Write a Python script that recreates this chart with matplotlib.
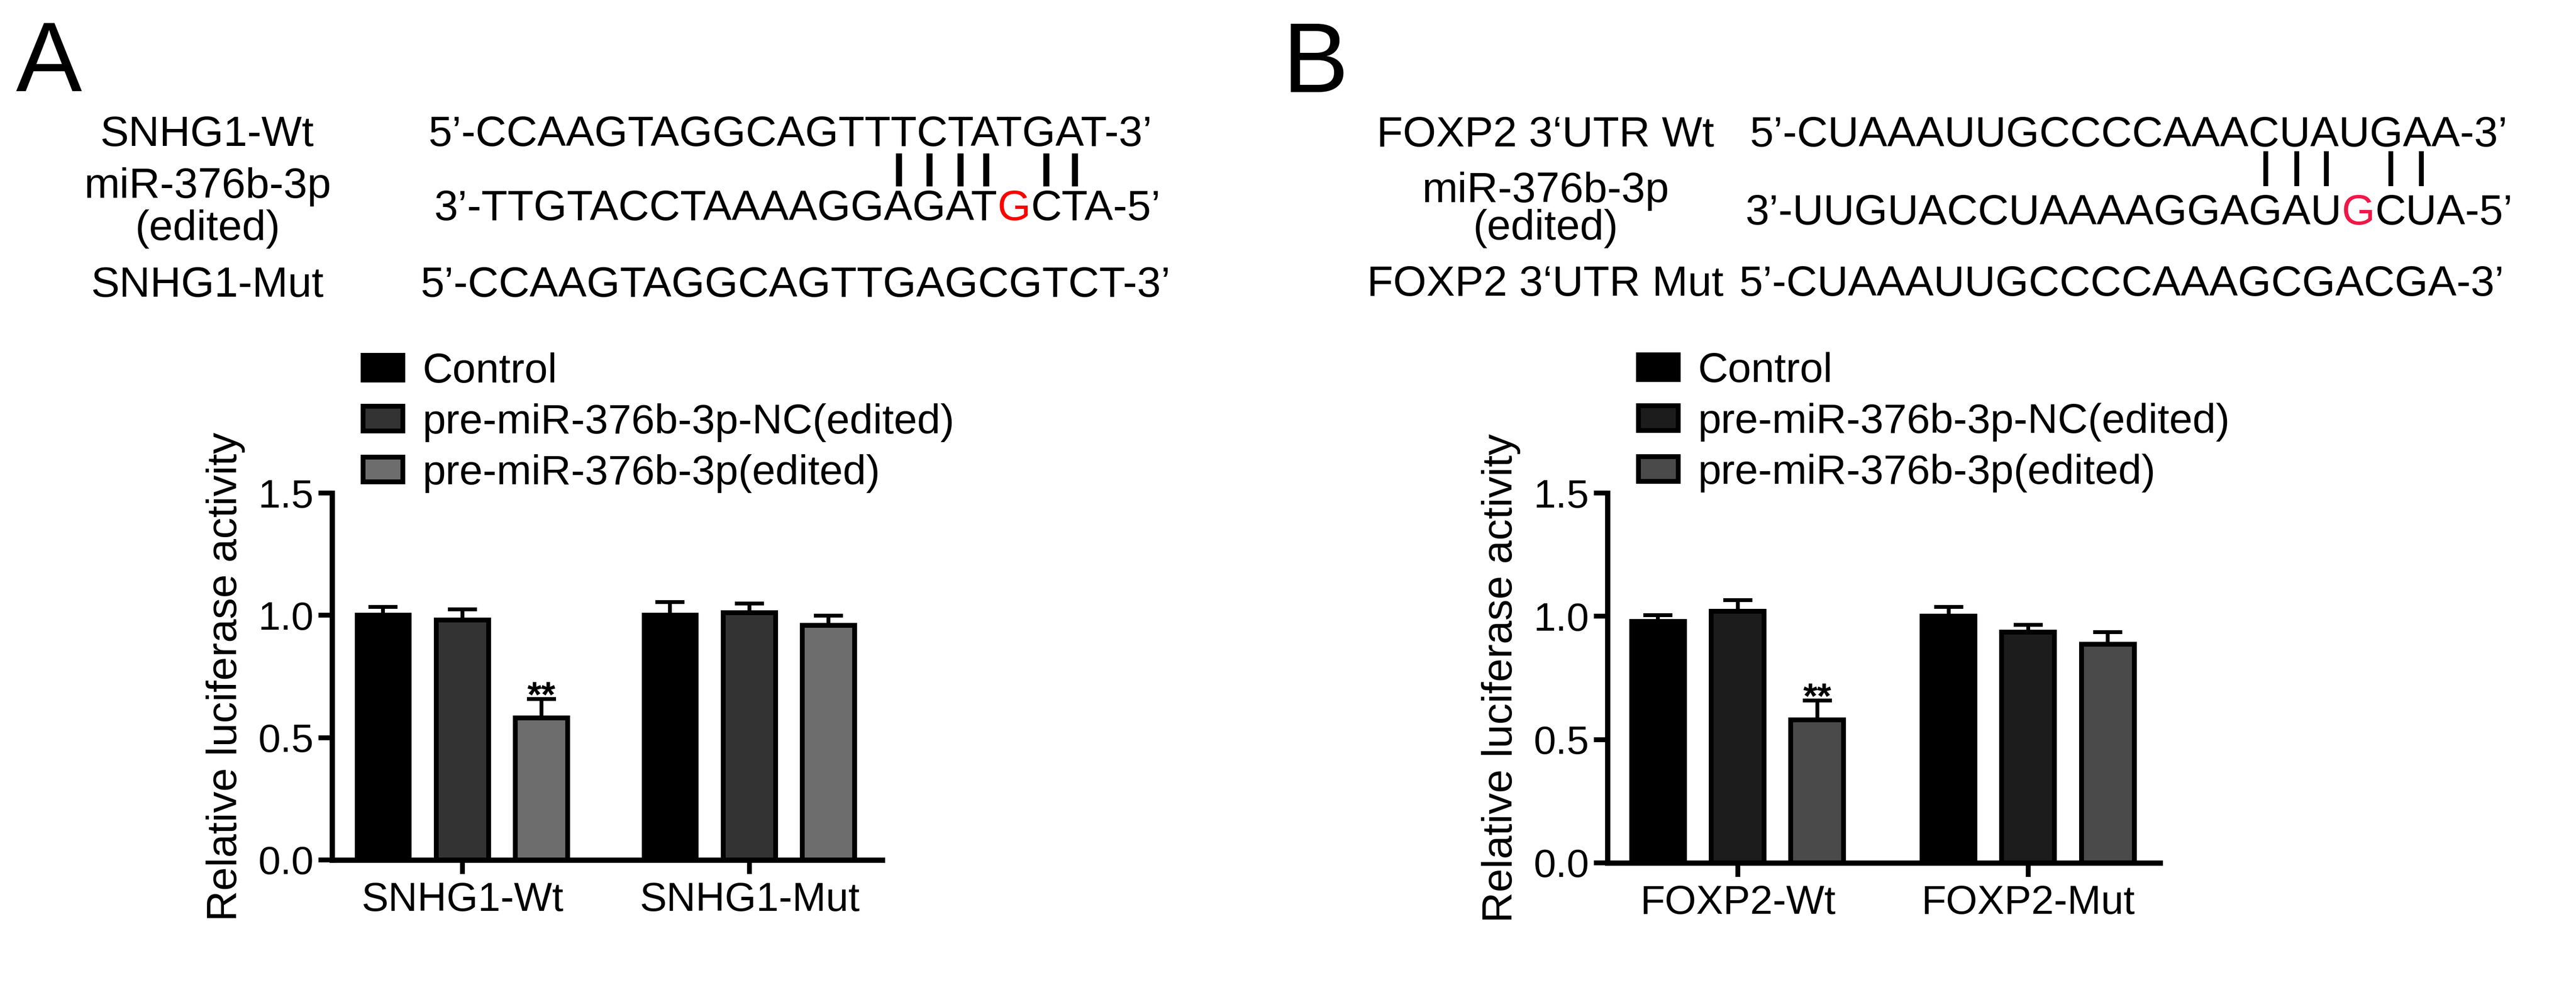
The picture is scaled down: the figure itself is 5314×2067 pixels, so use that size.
import numpy as np
import matplotlib
matplotlib.use("Agg")
import matplotlib.pyplot as plt
from matplotlib.lines import Line2D
from matplotlib.font_manager import FontProperties

plt.rcParams['font.family'] = ['Liberation Sans', 'DejaVu Sans']

W, H = 5315, 2067
DPI = 300

# ---- data ----
legend_labels = ['Control', 'pre-miR-376b-3p-NC(edited)', 'pre-miR-376b-3p(edited)']

groups_a = ['SNHG1-Wt', 'SNHG1-Mut']
vals_a = np.array([[1.00, 0.98, 0.58],
                   [1.00, 1.01, 0.96]])
errs_a = np.array([[0.035, 0.045, 0.078],
                   [0.055, 0.038, 0.038]])
colors_a = ['#000000', '#333333', '#6d6d6d']

groups_b = ['FOXP2-Wt', 'FOXP2-Mut']
vals_b = np.array([[0.98, 1.02, 0.58],
                   [1.00, 0.935, 0.886]])
errs_b = np.array([[0.025, 0.045, 0.078],
                   [0.038, 0.030, 0.050]])
colors_b = ['#000000', '#1c1c1c', '#4a4a4b']

# significance marks: (group, condition, text)
stars_a = [(0, 2, '**')]
stars_b = [(0, 2, '**')]

# sequence alignment text
wt_label_a, mir_label_a, mut_label_a = 'SNHG1-Wt', 'miR-376b-3p\n(edited)', 'SNHG1-Mut'
wt_seq_a = '5’-CCAAGTAGGCAGTTTCTATGAT-3’'
mir_seq_a = '3’-TTGTACCTAAAAGGAGATGCTA-5’'
mut_seq_a = '5’-CCAAGTAGGCAGTTGAGCGTCT-3’'
red_idx_a = 21
pairs_a = [17, 18, 19, 20, 22, 23]

wt_label_b, mir_label_b, mut_label_b = 'FOXP2 3‘UTR Wt', 'miR-376b-3p\n(edited)', 'FOXP2 3‘UTR Mut'
wt_seq_b = '5’-CUAAAUUGCCCCAAACUAUGAA-3’'
mir_seq_b = '3’-UUGUACCUAAAAGGAGAUGCUA-5’'
mut_seq_b = '5’-CUAAAUUGCCCCAAAGCGACGA-3’'
red_idx_b = 21
pairs_b = [18, 19, 20, 22, 23]

fig = plt.figure(figsize=(W / DPI, H / DPI), dpi=DPI)
renderer = fig.canvas.get_renderer()


def fx(px):
    return px / W


def fy(py):
    return 1 - py / H


SEQ_FS = 21.2
seq_font = FontProperties(family='Liberation Sans', size=SEQ_FS)


def text_w(s):
    w, h, d = renderer.get_text_width_height_descent(s, seq_font, ismath=False)
    return w


def draw_seq(x, y, s, red_idx=None, red_color='red'):
    if red_idx is None:
        fig.text(fx(x), fy(y), s, fontproperties=seq_font, ha='left', va='baseline')
        return
    pre, mid, post = s[:red_idx], s[red_idx], s[red_idx + 1:]
    fig.text(fx(x), fy(y), pre, fontproperties=seq_font, ha='left', va='baseline')
    fig.text(fx(x + text_w(pre)), fy(y), mid, fontproperties=seq_font, ha='left',
             va='baseline', color=red_color)
    fig.text(fx(x + text_w(pre + mid)), fy(y), post, fontproperties=seq_font, ha='left',
             va='baseline')


def char_center(x, s, i):
    return x + (text_w(s[:i]) + text_w(s[:i + 1])) / 2


def seq_block(lab_x, lab_ys, labels, mir_ls, seq_x, seq_ys, seqs, red_idx, red_color,
              pairs, pair_y, pair_lw):
    fig.text(fx(lab_x), fy(lab_ys[0]), labels[0], fontproperties=seq_font,
             ha='center', va='baseline')
    # two-line label, y is the baseline of the last line
    fig.text(fx(lab_x), fy(lab_ys[1]), labels[1], fontproperties=seq_font,
             ha='center', va='baseline', multialignment='center', linespacing=mir_ls)
    fig.text(fx(lab_x), fy(lab_ys[2]), labels[2], fontproperties=seq_font,
             ha='center', va='baseline')
    draw_seq(seq_x[0], seq_ys[0], seqs[0])
    draw_seq(seq_x[1], seq_ys[1], seqs[1], red_idx, red_color)
    draw_seq(seq_x[2], seq_ys[2], seqs[2])
    for i in pairs:
        cx = char_center(seq_x[1], seqs[1], i)
        fig.add_artist(Line2D([fx(cx), fx(cx)], [fy(pair_y[0]), fy(pair_y[1])],
                              color='black', lw=pair_lw, solid_capstyle='butt'))


seq_block(428, [301, 495, 612], [wt_label_a, mir_label_a, mut_label_a], 1.09,
          [884, 896, 868], [301, 454, 612],
          [wt_seq_a, mir_seq_a, mut_seq_a], red_idx_a, '#ff0000',
          pairs_a, (316, 384), 3.0)
seq_block(3188, [302, 494, 610], [wt_label_b, mir_label_b, mut_label_b], 0.94,
          [3610, 3601, 3588], [302, 463, 610],
          [wt_seq_b, mir_seq_b, mut_seq_b], red_idx_b, '#ee1848',
          pairs_b, (312, 384), 2.4)

# panel letters
fig.text(fx(33), fy(188), 'A', fontsize=49, ha='left', va='baseline')
fig.text(fx(2645), fy(190), 'B', fontsize=49, ha='left', va='baseline')


def bar_panel(rect, groups, vals, errs, colors, stars, xlim, offset, legend_xy):
    ax = fig.add_axes(rect)
    x = np.arange(len(groups))
    width = 0.182
    for i in range(vals.shape[1]):
        pos = x + (i - 1) * offset
        ax.bar(pos, vals[:, i], width, color=colors[i], edgecolor='black',
               linewidth=2.4, zorder=3, label=legend_labels[i])
        ax.errorbar(pos, vals[:, i], yerr=[np.zeros(len(groups)), errs[:, i]],
                    fmt='none', ecolor='black', elinewidth=1.9, capsize=7.2,
                    capthick=1.9, zorder=2)
    for g, c, s in stars:
        top = vals[g, c] + errs[g, c]
        ax.text(x[g] + (c - 1) * offset, top - 0.03, s, ha='center', va='baseline',
                fontsize=18, fontweight='bold')
    ax.set_xlim(*xlim)
    ax.set_ylim(0, 1.5)
    ax.set_yticks([0, 0.5, 1.0, 1.5])
    ax.set_yticklabels(['0.0', '0.5', '1.0', '1.5'])
    ax.set_xticks(x)
    ax.set_xticklabels(groups)
    for side in ['top', 'right']:
        ax.spines[side].set_visible(False)
    for side in ['left', 'bottom']:
        ax.spines[side].set_linewidth(2.6)
    ax.tick_params(axis='y', length=6.8, width=2.4, pad=2.2, labelsize=19.8)
    ax.tick_params(axis='x', length=7, width=2.4, pad=3.5, labelsize=20)
    ax.set_ylabel('Relative luciferase activity', fontsize=21, labelpad=6.5)
    ax.legend(loc='upper left', bbox_to_anchor=legend_xy, bbox_transform=fig.transFigure,
              frameon=False, fontsize=20.7, borderpad=0, borderaxespad=0,
              handlelength=0.95, handleheight=0.53, handletextpad=0.475,
              labelspacing=0.29)
    return ax


bar_panel([fx(685), fy(1774), (1820 - 685) / W, (1774 - 1017) / H], groups_a, vals_a,
          errs_a, colors_a, stars_a, (-0.454, 1.463), 0.276, (fx(749), fy(727)))
bar_panel([fx(3316), fy(1780), (4456 - 3316) / W, (1780 - 1017) / H], groups_b, vals_b,
          errs_b, colors_b, stars_b, (-0.448, 1.454), 0.274, (fx(3380), fy(726)))

fig.savefig('out.png', dpi=DPI, facecolor='white')
